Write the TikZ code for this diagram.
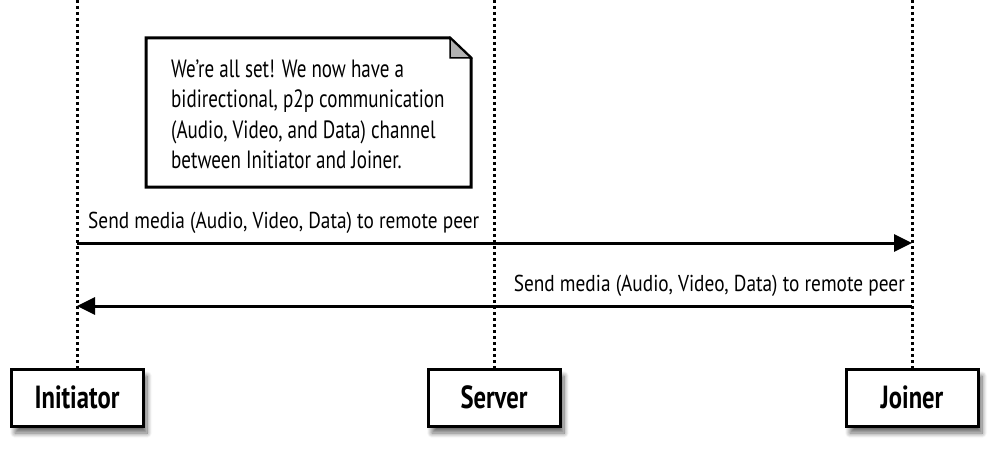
\documentclass[tikz,border=0pt]{standalone}
\usepackage{fontspec}
\setmainfont{PT Sans}[FakeStretch=0.84]
\newfontfamily\msgfont{PT Sans}[FakeStretch=0.84]
\newfontfamily\notefont{PT Sans}[FakeStretch=0.762]
\newfontfamily\actorfont{PT Sans}[FakeStretch=0.77]
\usetikzlibrary{arrows.meta,shadows.blur,calc}
\begin{document}
\begin{tikzpicture}[x=1pt,y=-1pt,
  actor/.style={draw=black,line width=3pt,fill=white,minimum width=132pt,minimum height=57pt,inner sep=0pt,
    font=\actorfont\fontsize{32}{36}\selectfont\bfseries,
    blur shadow={shadow xshift=4pt,shadow yshift=-7pt,shadow blur steps=10,shadow blur radius=5pt,shadow opacity=60}},
  lifeline/.style={line width=3pt,dash pattern=on 3pt off 3pt},
  msg/.style={line width=3pt,-{Triangle[length=18pt,width=17pt]}},
  msgtext/.style={font=\msgfont\fontsize{23}{26}\selectfont,inner sep=0pt},
  notetext/.style={font=\notefont\fontsize{25}{30}\selectfont,align=left,inner sep=0pt}]
\useasboundingbox (0,0) rectangle (1000,449);
% actors
\node[actor] (ini) at (77,397.5) {Initiator};
\node[actor] (srv) at (494,397.5) {Server};
\node[actor] (joi) at (912,397.5) {Joiner};
% lifeline tops
\coordinate (iniTop) at (77,0);
\coordinate (srvTop) at (494,0);
\coordinate (joiTop) at (912,0);
\draw[lifeline] (iniTop) -- (ini.north);
\draw[lifeline] (srvTop) -- (srv.north);
\draw[lifeline] (joiTop) -- (joi.north);
% note
\coordinate (nA) at (146,38);
\coordinate (nB) at (450,38);
\coordinate (nC) at (471,58);
\coordinate (nD) at (471,187);
\coordinate (nE) at (146,187);
\coordinate (nF) at (450,58);
\draw[line width=3pt,fill=white,line join=miter] (nA) -- (nB) -- (nC) -- (nD) -- (nE) -- cycle;
\draw[line width=1.5pt,fill=black!30,line join=miter] (nB) -- (nC) -- (nF) -- cycle;
\node[notetext,anchor=base west] (note) at (171,168) {We’re all set! We now have a\\bidirectional, p2p communication\\(Audio, Video, and Data) channel\\between Initiator and Joiner.};
% messages
\coordinate (m1i) at (77,243);
\coordinate (m1j) at (912,243);
\coordinate (m2j) at (912,306);
\coordinate (m2i) at (77,306);
\draw[msg] (m1i) -- (m1j);
\draw[msg] (m2j) -- (m2i);
\node[msgtext,anchor=base west] (l1) at (88,228) {Send media (Audio, Video, Data) to remote peer};
\node[msgtext,anchor=base east] (l2) at (905,291) {Send media (Audio, Video, Data) to remote peer};
\end{tikzpicture}
\end{document}
